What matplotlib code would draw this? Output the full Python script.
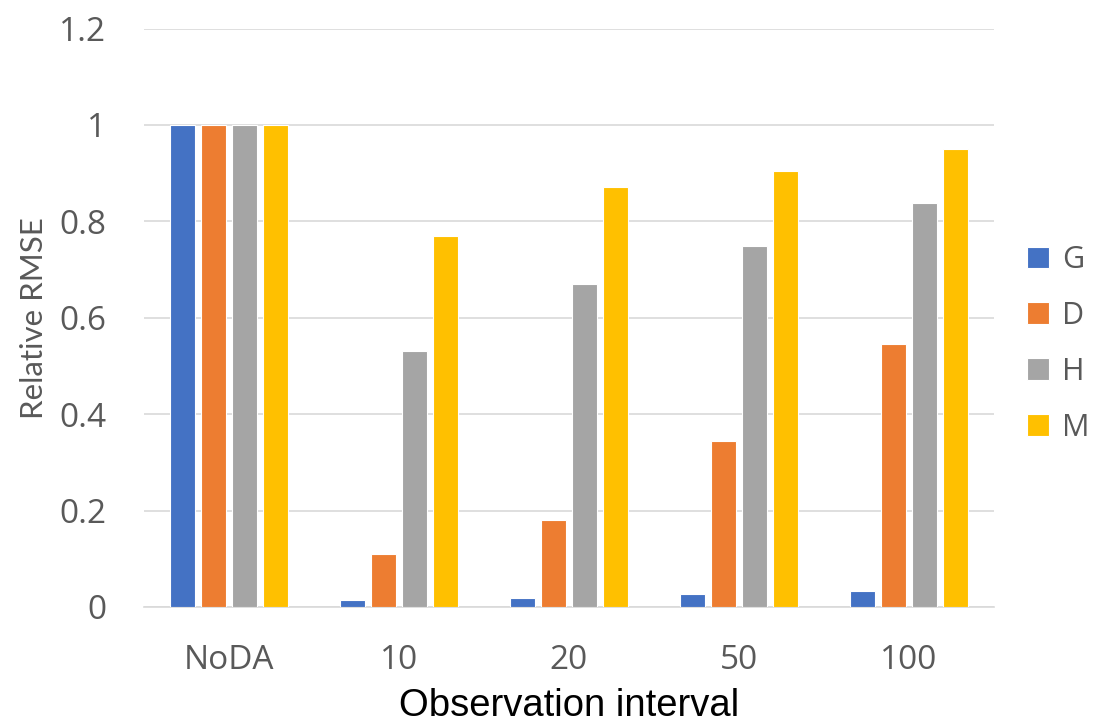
import numpy as np
import matplotlib
matplotlib.use("Agg")
import matplotlib.pyplot as plt

# data
categories = ["NoDA", "10", "20", "50", "100"]
series_names = ["G", "D", "H", "M"]
g_vals = [1.0, 0.014, 0.019, 0.026, 0.033]
d_vals = [1.0, 0.110, 0.180, 0.344, 0.546]
h_vals = [1.0, 0.530, 0.670, 0.748, 0.838]
m_vals = [1.0, 0.769, 0.872, 0.905, 0.950]
colors = ["#4472C4", "#ED7D31", "#A5A5A5", "#FFC000"]
y_ticks = [0, 0.2, 0.4, 0.6, 0.8, 1.0, 1.2]
y_tick_labels = ["0", "0.2", "0.4", "0.6", "0.8", "1", "1.2"]

fig = plt.figure(figsize=(10.96, 7.22), dpi=100)
ax = fig.add_axes([0.1314, 0.1593, 0.7755, 0.8012])

x = np.arange(len(categories))
width = 0.15
step = 0.182
for i, (name, vals) in enumerate(zip(series_names, [g_vals, d_vals, h_vals, m_vals])):
    ax.bar(x + (i - 1.5) * step, vals, width, color=colors[i], label=name,
           edgecolor="white", linewidth=0.8, zorder=3)

ax.set_xlim(-0.5, 4.5)
ax.set_ylim(0, 1.2)
ax.set_yticks(y_ticks)
ax.set_yticklabels(y_tick_labels)
ax.set_xticks(x)
ax.set_xticklabels(categories)
ax.yaxis.grid(True, color="#D9D9D9", linewidth=1.2, zorder=0)
ax.tick_params(axis="both", length=0, labelsize=24, labelcolor="#595959", pad=27)
for lab in ax.get_xticklabels() + ax.get_yticklabels():
    lab.set_family("Open Sans")

for side in ["top", "right", "left"]:
    ax.spines[side].set_visible(False)
ax.spines["bottom"].set_color("#D9D9D9")
ax.spines["bottom"].set_linewidth(1.2)

ax.set_xlabel("Observation interval", fontsize=27.5, family="Liberation Sans",
              color="black")
ax.xaxis.set_label_coords(0.5, -0.188, transform=ax.transAxes)
ax.xaxis.label.set_va("baseline")
ax.set_ylabel("Relative RMSE", fontsize=22.5, family="Lato", color="#595959", labelpad=8)

leg = fig.legend(loc="center left", bbox_to_anchor=(0.937, 0.5235), frameon=False,
                 fontsize=22, handlelength=0.72, handleheight=0.72, labelspacing=0.85,
                 handletextpad=0.42, borderpad=0, borderaxespad=0)
for t in leg.get_texts():
    t.set_color("#595959")
    t.set_family("Open Sans")

fig.savefig("out.png", dpi=100)
